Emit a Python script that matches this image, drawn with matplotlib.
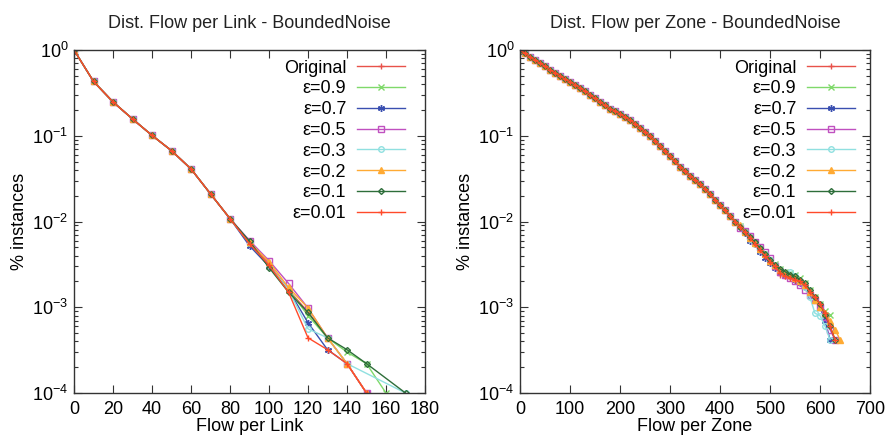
import matplotlib
matplotlib.use("Agg")
import matplotlib.pyplot as plt
from matplotlib.ticker import LogLocator, NullFormatter

plt.rcParams['font.family'] = ['Liberation Sans', 'DejaVu Sans']
plt.rcParams['font.size'] = 13

labels = ["Original", "ε=0.9", "ε=0.7", "ε=0.5", "ε=0.3", "ε=0.2", "ε=0.1", "ε=0.01"]
colors = ["#e8524a", "#7fd96a", "#3a4fb0", "#c050c0", "#90e0e0", "#ffaa33", "#2e6e3a", "#ff4a2a"]
markers = ["+", "x", (6, 2, 0), "s", "o", "^", "D", "+"]
fills = ["full", "full", "full", "none", "none", "full", "none", "full"]
msizes = [5, 4.5, 5, 4, 4, 4, 3, 5]

# --- Flow per Link: shared head (0..80), then per-series tails
link_head_x = [0, 10, 20, 30, 40, 50, 60, 70, 80]
link_head_y = [1.0, 0.43, 0.248, 0.157, 0.101, 0.067, 0.041, 0.021, 0.0108]

link_tail_x_orig = [90, 100, 110, 120, 130, 140, 150]
link_tail_orig = [0.0058, 0.0032, 0.0016, 0.00088, 0.00044, 0.00022, 0.0001]
link_tail_x_09 = [90, 100, 110, 120, 130, 140, 150, 160]
link_tail_09 = [0.0055, 0.0030, 0.0016, 0.00080, 0.00044, 0.00030, 0.00022, 0.0001]
link_tail_x_07 = [90, 100, 110, 120, 130, 140, 150]
link_tail_07 = [0.0052, 0.0030, 0.0016, 0.00066, 0.00032, 0.00022, 0.0001]
link_tail_x_05 = [90, 100, 110, 120, 130, 140, 150]
link_tail_05 = [0.0060, 0.0035, 0.0019, 0.00098, 0.00044, 0.00022, 0.0001]
link_tail_x_03 = [90, 100, 110, 120, 130, 140, 170]
link_tail_03 = [0.0056, 0.0031, 0.0016, 0.00056, 0.00044, 0.00022, 0.0001]
link_tail_x_02 = [90, 100, 110, 120, 130, 140, 150]
link_tail_02 = [0.0057, 0.0034, 0.0017, 0.00098, 0.00044, 0.00022, 0.0001]
link_tail_x_01 = [90, 100, 110, 120, 130, 140, 150, 170]
link_tail_01 = [0.0059, 0.0029, 0.0015, 0.00087, 0.00044, 0.00032, 0.00022, 0.0001]
link_tail_x_001 = [90, 100, 110, 120, 130, 140, 150]
link_tail_001 = [0.0055, 0.0031, 0.0015, 0.00044, 0.00032, 0.00022, 0.0001]

# --- Flow per Zone: shared head (0..430 step 10), then per-series tails from 440
zone_head_y = [1.0, 0.912, 0.832, 0.767, 0.70, 0.646, 0.589, 0.543, 0.501, 0.457,
               0.427, 0.394, 0.363, 0.331, 0.302, 0.272, 0.248, 0.226, 0.207, 0.195,
               0.18, 0.166, 0.153, 0.138, 0.124, 0.111, 0.0989, 0.0871, 0.0759, 0.066,
               0.0575, 0.0501, 0.0437, 0.0385, 0.0343, 0.0305, 0.0272, 0.024, 0.0209, 0.018,
               0.0155, 0.0135, 0.0116, 0.01]
zone_tail_orig = [0.0088, 0.0075, 0.0066, 0.0055, 0.0047, 0.0040, 0.0034, 0.0029, 0.0024, 0.0023,
                  0.0022, 0.0021, 0.0020, 0.0018, 0.0015, 0.0013, 0.0011, 0.00085]
zone_tail_09 = [0.0089, 0.0078, 0.0066, 0.0057, 0.0049, 0.0042, 0.0036, 0.0032, 0.0028, 0.0026,
                0.0025, 0.0024, 0.0022, 0.0019, 0.0016, 0.0013, 0.0011, 0.0009, 0.00082]
zone_tail_07 = [0.0086, 0.0074, 0.0060, 0.0054, 0.0044, 0.0038, 0.0033, 0.0029, 0.0026, 0.0024,
                0.0023, 0.0021, 0.0019, 0.0017, 0.0014, 0.0012, 0.0010, 0.0007, 0.00042]
zone_tail_05 = [0.0085, 0.0078, 0.0068, 0.0058, 0.0050, 0.0044, 0.0038, 0.0030, 0.0026, 0.0024,
                0.0022, 0.0020, 0.0018, 0.0016, 0.0014, 0.0012, 0.0010, 0.00078, 0.00055, 0.00042]
zone_tail_03 = [0.0088, 0.0075, 0.0063, 0.0055, 0.0046, 0.0042, 0.0036, 0.0031, 0.0027, 0.0025,
                0.0026, 0.0023, 0.0020, 0.0017, 0.0013, 0.00085, 0.00080, 0.0006, 0.00042]
zone_tail_02 = [0.0090, 0.0076, 0.0064, 0.0056, 0.0048, 0.0042, 0.0035, 0.0031, 0.0027, 0.0025,
                0.0024, 0.0022, 0.0020, 0.0018, 0.0015, 0.0012, 0.0010, 0.00085, 0.0007, 0.00055, 0.00042]
zone_tail_01 = [0.0087, 0.0076, 0.0066, 0.0057, 0.0049, 0.0042, 0.0036, 0.0031, 0.0028, 0.0026,
                0.0024, 0.0023, 0.0021, 0.0019, 0.0016, 0.0013, 0.0011, 0.00082, 0.0006, 0.00042]
zone_tail_001 = [0.0086, 0.0075, 0.0064, 0.0055, 0.0046, 0.0040, 0.0034, 0.0030, 0.0025, 0.0023,
                 0.0022, 0.0021, 0.0020, 0.0018, 0.0015, 0.0013, 0.0011, 0.00085, 0.00060, 0.00042]

link_tails = [(link_tail_x_orig, link_tail_orig), (link_tail_x_09, link_tail_09),
              (link_tail_x_07, link_tail_07), (link_tail_x_05, link_tail_05),
              (link_tail_x_03, link_tail_03), (link_tail_x_02, link_tail_02),
              (link_tail_x_01, link_tail_01), (link_tail_x_001, link_tail_001)]
zone_tails = [zone_tail_orig, zone_tail_09, zone_tail_07, zone_tail_05,
              zone_tail_03, zone_tail_02, zone_tail_01, zone_tail_001]


def style_axes(ax, xmax, xstep, title, xlabel):
    ax.set_yscale('log')
    ax.set_xlim(0, xmax)
    ax.set_ylim(1e-4, 1)
    ax.set_xticks(range(0, xmax + 1, xstep))
    ax.yaxis.set_major_locator(LogLocator(base=10, numticks=10))
    ax.yaxis.set_minor_locator(LogLocator(base=10, subs=range(2, 10), numticks=10))
    ax.yaxis.set_minor_formatter(NullFormatter())
    ax.tick_params(which='both', direction='in', top=True, right=True, labelsize=13, color='#333333')
    ax.tick_params(which='major', length=6, width=0.8)
    ax.tick_params(which='minor', length=3, width=0.8)
    ax.tick_params(axis='x', pad=6)
    ax.tick_params(axis='y', pad=4)
    for s in ax.spines.values():
        s.set_linewidth(1.0)
        s.set_color('#333333')
    ax.set_title(title, fontsize=13, pad=16, color='#222222')
    ax.set_xlabel(xlabel, fontsize=13, labelpad=0)
    ax.set_ylabel('% instances', fontsize=13, labelpad=3)


fig = plt.figure(figsize=(8.96, 4.41), dpi=100)
ax1 = fig.add_axes([74 / 896, 48 / 441, 351 / 896, 343 / 441])
ax2 = fig.add_axes([520 / 896, 48 / 441, 350 / 896, 343 / 441])

for i, lab in enumerate(labels):
    tx, ty = link_tails[i]
    ax1.plot(link_head_x + tx, link_head_y + ty, color=colors[i], marker=markers[i],
             fillstyle=fills[i], markersize=msizes[i], lw=1, mew=1, label=lab)

    zy = zone_head_y + zone_tails[i]
    zx = list(range(0, 10 * len(zy), 10))
    ax2.plot(zx, zy, color=colors[i], marker=markers[i],
             fillstyle=fills[i], markersize=msizes[i], lw=1, mew=1, label=lab)

style_axes(ax1, 180, 20, 'Dist. Flow per Link - BoundedNoise', 'Flow per Link')
style_axes(ax2, 700, 100, 'Dist. Flow per Zone - BoundedNoise', 'Flow per Zone')

for ax, anchor in [(ax1, (0.943, 0.972)), (ax2, (0.957, 0.972))]:
    ax.legend(loc='upper right', bbox_to_anchor=anchor, frameon=False, markerfirst=False,
              fontsize=13, handlelength=2.65, handletextpad=0.6, labelspacing=0.21,
              borderpad=0, borderaxespad=0)

fig.savefig('out.png', dpi=100)
